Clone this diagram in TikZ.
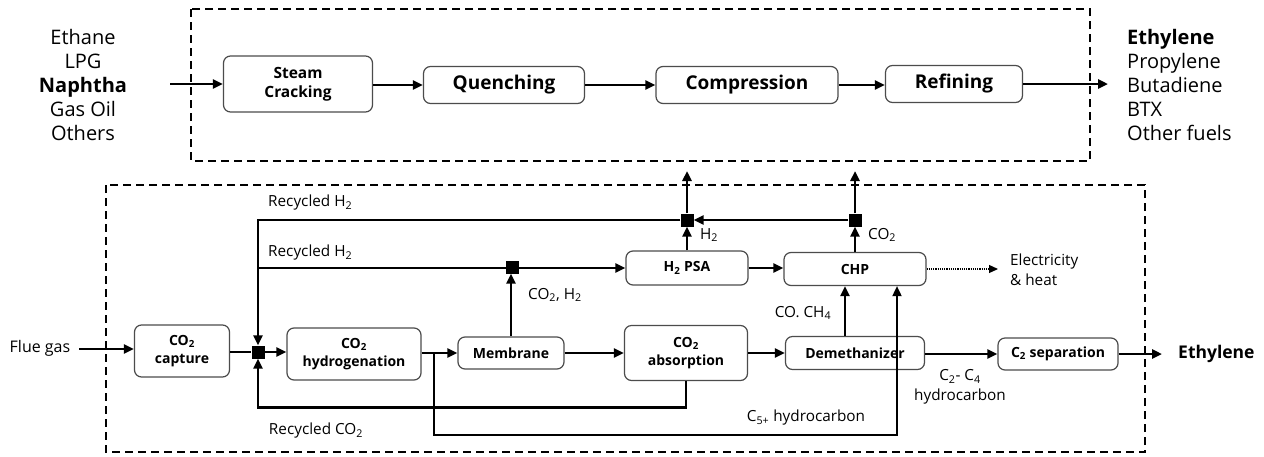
\documentclass[tikz,border=0pt]{standalone}
\usepackage{fontspec}
\setmainfont{Open Sans}
\usetikzlibrary{arrows.meta,calc}
\begin{document}
\begin{tikzpicture}[x=1pt,y=-1pt,
  box/.style={draw=black!70, rounded corners=7pt, line width=1.2pt, fill=white, align=center, inner sep=0pt},
  topbox/.style={box, font=\bfseries\fontsize{19}{24}\selectfont, minimum height=37pt},
  botbox/.style={box, font=\bfseries\fontsize{14}{18}\selectfont},
  flow/.style={line width=2.8pt, -{Triangle[length=10pt,width=9pt]}},
  plain/.style={line width=2.8pt},
  thinflow/.style={line width=1.8pt, -{Triangle[length=10pt,width=9pt]}},
  dotflow/.style={line width=1.2pt, densely dotted, -{Triangle[length=9pt,width=8pt]}},
  jn/.style={fill=black, minimum size=13pt, inner sep=0pt, draw=none},
  lbl/.style={font=\fontsize{15.3}{20}\selectfont, inner sep=0pt},
  biglbl/.style={font=\fontsize{20}{24}\selectfont, inner sep=0pt},
  dashbox/.style={line width=1.8pt, dash pattern=on 8pt off 5pt}
]
\useasboundingbox (0,0) rectangle (1264,456);
\fill[white] (0,0) rectangle (1264,456);

% dashed boxes
\draw[dashbox] (191,9) rectangle (1090,161);
\draw[dashbox] (106,185) rectangle (1145,452);

% ---------- top row ----------
\node[biglbl, align=center] (feed) at (83,85) {Ethane\\LPG\\\textbf{Naphtha}\\Gas Oil\\Others};
\node[biglbl, align=left, anchor=west] (prod) at (1127,85) {\textbf{Ethylene}\\Propylene\\Butadiene\\BTX\\Other fuels};
\coordinate (feedA) at (170,84);
\coordinate (prodA) at (1108,84);

\node[box, font=\bfseries\fontsize{15.5}{19}\selectfont, minimum width=149pt, minimum height=56pt] (sc) at (298,84) {Steam\\Cracking};
\node[topbox, minimum width=161pt] (qu) at (504,85) {Quenching};
\node[topbox, minimum width=182pt] (co) at (747,85) {Compression};
\node[topbox, minimum width=137pt] (re) at (954,84) {Refining};

\draw[flow] (feedA) -- (sc.west |- feedA);
\draw[flow] (sc.east |- qu) -- (qu.west);
\draw[flow] (qu.east) -- (co.west);
\draw[flow] (co.east) -- (re.west |- co);
\draw[flow] (re.east) -- (prodA);

% ---------- bottom ----------
\node[lbl, font=\fontsize{16}{20}\selectfont] (flue) at (40,348) {Flue gas};
\coordinate (flueA) at (79,349);

\node[botbox, minimum width=95pt, minimum height=52pt] (cap) at (182,351) {CO\textsubscript{2}\\capture};
\node[jn] (J1) at (258,352) {};
\node[botbox, minimum width=134pt, minimum height=52pt] (hyd) at (354,354) {CO\textsubscript{2}\\hydrogenation};
\node[botbox, minimum width=106pt, minimum height=32pt] (mem) at (511,353) {Membrane};
\node[botbox, minimum width=123pt, minimum height=55pt] (abs) at (686,353) {CO\textsubscript{2}\\absorption};
\node[botbox, minimum width=139pt, minimum height=33pt] (dem) at (855,353) {Demethanizer};
\node[botbox, minimum width=120pt, minimum height=32pt] (c2) at (1058,354) {C\textsubscript{2} separation};
\node[inner sep=0pt, anchor=west, font=\bfseries\fontsize{17.5}{22}\selectfont] (eth) at (1178,354) {Ethylene};
\coordinate (ethA) at (1162,354);

\node[botbox, minimum width=122pt, minimum height=34pt] (psa) at (687,268) {H\textsubscript{2} PSA};
\node[botbox, minimum width=142pt, minimum height=33pt] (chp) at (855,269) {CHP};
\node[jn] (J2) at (687,220) {};
\node[jn] (J3) at (855,220) {};
\coordinate (outH) at (687,171);
\coordinate (outC) at (855,171);
\coordinate (elec) at (998,269);
\coordinate (br) at (434,354);

% main chain
\draw[flow] (flueA) -- (cap.west |- flueA);
\draw[plain] (cap.east |- J1) -- (J1.west);
\draw[flow] (J1.east) -- (hyd.west |- J1);
\draw[flow] (hyd.east |- mem) -- (mem.west);
\draw[flow] (mem.east) -- (abs.west |- mem);
\draw[flow] (abs.east |- dem) -- (dem.west);
\draw[flow] (dem.east |- c2) -- (c2.west);
\draw[flow] (c2.east) -- (ethA);

% recycled H2 (top)
\draw[flow] (J2.west) -- (J1 |- J2) -- (J1.north);
% recycled H2 (second) through junction J4
\draw[flow] (J1 |- psa.west) -- (psa.west);
\node[jn] (J4) at (512,267) {};
\draw[flow] (mem.north) -- (mem.north |- J4.south);
% H2 PSA / CHP
\draw[flow] (psa.north) -- (J2.south);
\draw[flow] (J2.north) -- (outH);
\draw[flow] (chp.north) -- (J3.south);
\draw[flow] (J3.north) -- (outC);
\draw[flow] (J3.west) -- (J2.east);
\draw[flow] (psa.east) -- (chp.west |- psa);
\draw[dotflow] (chp.east) -- (elec);
\draw[flow] ([xshift=-10pt]dem.north) -- ([xshift=-10pt]dem.north |- chp.south);
% recycled CO2
\draw[flow] (abs.south) -- ++(0,26) -| (J1.south);
% C5+ hydrocarbon
\draw[thinflow] (br) -- (br |- 0,435) -| ([xshift=42pt]chp.south);

% labels
\node[lbl, anchor=west] (lH1) at (268,203) {Recycled H\textsubscript{2}};
\node[lbl, anchor=west] (lH2) at (268,253) {Recycled H\textsubscript{2}};
\node[lbl, anchor=west] (lCH) at (528,295) {CO\textsubscript{2}, H\textsubscript{2}};
\node[lbl, anchor=west] (lH) at (700,235) {H\textsubscript{2}};
\node[lbl, anchor=west] (lC) at (868,235) {CO\textsubscript{2}};
\node[lbl, align=left, anchor=west] (lE) at (1010,270) {Electricity\\\& heat};
\node[lbl] (lCO) at (803,313) {CO. CH\textsubscript{4}};
\node[lbl] (lRC) at (316,431) {Recycled CO\textsubscript{2}};
\node[lbl] (lC5) at (806,418) {C\textsubscript{5+} hydrocarbon};
\node[lbl, align=center] (lC24) at (960,387) {C\textsubscript{2}- C\textsubscript{4}\\hydrocarbon};
\end{tikzpicture}
\end{document}
